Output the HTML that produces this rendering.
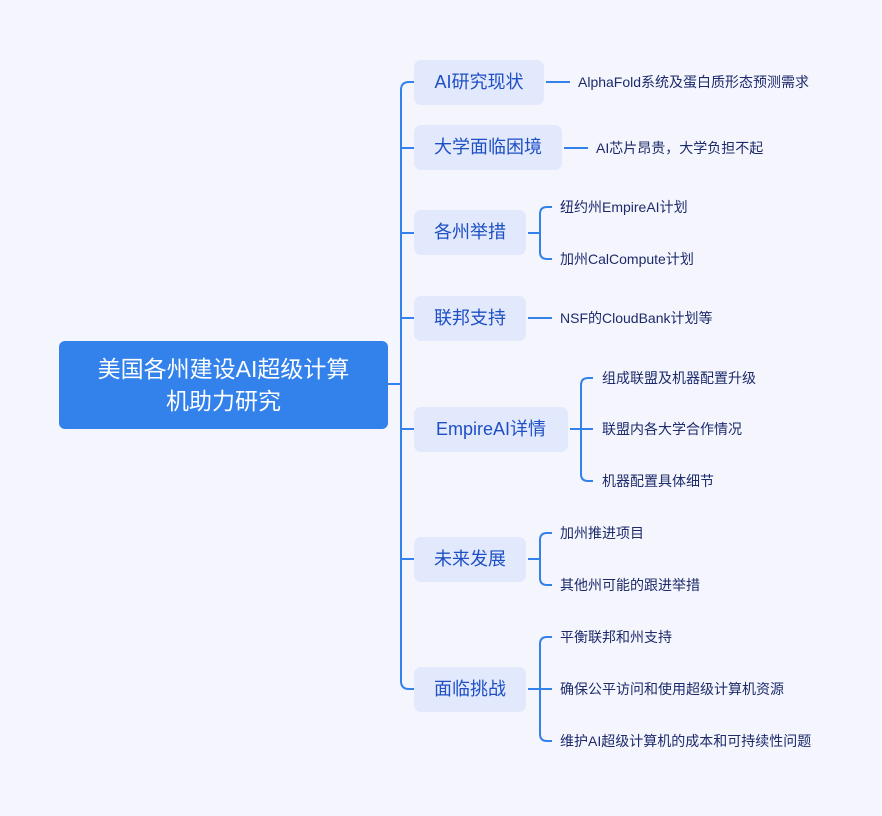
<!DOCTYPE html>
<html><head><meta charset="utf-8"><style>
body{margin:0;width:882px;height:816px;background:#f5f6fd;position:relative;overflow:hidden;font-family:"Liberation Sans","Noto Sans CJK SC",sans-serif}
.root{position:absolute;left:59px;top:341px;width:329px;height:88px;background:#3381eb;border-radius:6px;color:#fff;font-size:23px;line-height:32px;text-align:center;display:flex;align-items:center;justify-content:center;padding:0 30px;box-sizing:border-box}
.b{position:absolute;left:414px;height:45px;background:#e2e9fc;border-radius:7px;color:#1f4fc4;font-size:18px;line-height:45px;text-align:center}
.l{position:absolute;color:#1c2a6b;font-size:14px;line-height:20px;white-space:nowrap}
svg{position:absolute;left:0;top:0}
</style></head><body>
<svg width="882" height="816" fill="none" stroke="#3381eb" stroke-width="2">
<path d="M388 384H401"/>
<path d="M414 82H409Q401 82 401 90V681Q401 689 409 689H414"/>
<path d="M401 148H414M401 233H414M401 318H414M401 429H414M401 559H414"/>
<path d="M546 82H570M564 148H588M528 318H552"/>
<path d="M528 233H540M552 207H547Q540 207 540 214V252Q540 259 547 259H552"/>
<path d="M570 429H593M593 378H588Q581 378 581 385V474Q581 481 588 481H593"/>
<path d="M528 559H540M552 533H547Q540 533 540 540V578Q540 585 547 585H552"/>
<path d="M528 689H552M552 637H547Q540 637 540 644V734Q540 741 547 741H552"/>
</svg>
<div class="root">美国各州建设AI超级计算机助力研究</div>
<div class="b" style="top:60px;width:130px">AI研究现状</div>
<div class="b" style="top:125px;width:148px">大学面临困境</div>
<div class="b" style="top:210px;width:112px">各州举措</div>
<div class="b" style="top:296px;width:112px">联邦支持</div>
<div class="b" style="top:407px;width:154px">EmpireAI详情</div>
<div class="b" style="top:537px;width:112px">未来发展</div>
<div class="b" style="top:667px;width:112px">面临挑战</div>
<div class="l" style="left:578px;top:72px">AlphaFold系统及蛋白质形态预测需求</div>
<div class="l" style="left:596px;top:138px">AI芯片昂贵，大学负担不起</div>
<div class="l" style="left:560px;top:197px">纽约州EmpireAI计划</div>
<div class="l" style="left:560px;top:249px">加州CalCompute计划</div>
<div class="l" style="left:560px;top:308px">NSF的CloudBank计划等</div>
<div class="l" style="left:602px;top:368px">组成联盟及机器配置升级</div>
<div class="l" style="left:602px;top:419px">联盟内各大学合作情况</div>
<div class="l" style="left:602px;top:471px">机器配置具体细节</div>
<div class="l" style="left:560px;top:523px">加州推进项目</div>
<div class="l" style="left:560px;top:575px">其他州可能的跟进举措</div>
<div class="l" style="left:560px;top:627px">平衡联邦和州支持</div>
<div class="l" style="left:560px;top:679px">确保公平访问和使用超级计算机资源</div>
<div class="l" style="left:560px;top:731px">维护AI超级计算机的成本和可持续性问题</div>
</body></html>
